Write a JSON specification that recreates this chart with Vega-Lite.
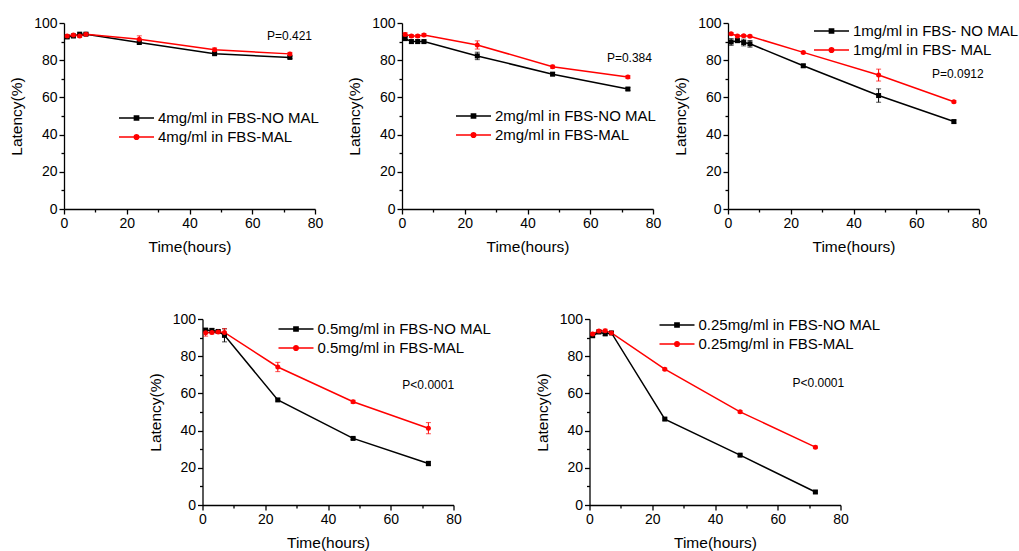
{
"$schema":"https://vega.github.io/schema/vega-lite/v6.json",
"padding":{"left":9,"top":16,"right":0,"bottom":0},
"autosize":{"type":"pad"},
"background":"white",
"config":{
 "font":"Liberation Sans",
 "view":{"stroke":null},
 "axis":{"domainColor":"#000","tickColor":"#000","labelColor":"#000","titleColor":"#000","grid":false,"labelFontSize":14,"titleFontSize":15.5,"titleFontWeight":"normal","domainWidth":1.3,"tickWidth":1.3,"tickSize":5,"labelPadding":2,"titlePadding":9,"labelFlush":false,"labelOverlap":false},
 "legend":{"labelColor":"#000","labelFontSize":15,"labelOffset":3,"labelLimit":0,"rowPadding":1,"clipHeight":18,"symbolSize":1225,"symbolStrokeWidth":1.5,"title":null,"orient":"none"},
 "text":{"color":"#000"}
},
"datasets":{
 "p1":[
  {"t":1,"grp":"NO MAL","v":92.5,"lo":91.8,"hi":93.2},{"t":3,"grp":"NO MAL","v":93,"lo":92.4,"hi":93.6},{"t":5,"grp":"NO MAL","v":94,"lo":93.4,"hi":94.6},{"t":7,"grp":"NO MAL","v":94,"lo":93.4,"hi":94.6},{"t":24,"grp":"NO MAL","v":89.5,"lo":88.8,"hi":90.2},{"t":48,"grp":"NO MAL","v":83.5,"lo":82.9,"hi":84.1},{"t":72,"grp":"NO MAL","v":81.5,"lo":80.9,"hi":82.1},
  {"t":1,"grp":"MAL","v":93,"lo":92.3,"hi":93.7},{"t":3,"grp":"MAL","v":93.5,"lo":92.9,"hi":94.1},{"t":5,"grp":"MAL","v":93,"lo":92.2,"hi":93.8},{"t":7,"grp":"MAL","v":94,"lo":93.4,"hi":94.6},{"t":24,"grp":"MAL","v":91.3,"lo":89.5,"hi":93.1},{"t":48,"grp":"MAL","v":85.6,"lo":84.6,"hi":86.6},{"t":72,"grp":"MAL","v":83.4,"lo":82.6,"hi":84.2}
 ],
 "p2":[
  {"t":1,"grp":"NO MAL","v":91.6,"lo":90.6,"hi":92.6},{"t":3,"grp":"NO MAL","v":90,"lo":89,"hi":91},{"t":5,"grp":"NO MAL","v":90,"lo":89,"hi":91},{"t":7,"grp":"NO MAL","v":90,"lo":89.2,"hi":90.8},{"t":24,"grp":"NO MAL","v":82.3,"lo":80.3,"hi":84.3},{"t":48,"grp":"NO MAL","v":72.5,"lo":71.7,"hi":73.3},{"t":72,"grp":"NO MAL","v":64.5,"lo":63.7,"hi":65.3},
  {"t":1,"grp":"MAL","v":93.8,"lo":92.8,"hi":94.8},{"t":3,"grp":"MAL","v":93,"lo":92.2,"hi":93.8},{"t":5,"grp":"MAL","v":93,"lo":92.2,"hi":93.8},{"t":7,"grp":"MAL","v":93.5,"lo":92.7,"hi":94.3},{"t":24,"grp":"MAL","v":88.2,"lo":86,"hi":90.4},{"t":48,"grp":"MAL","v":76.5,"lo":75.7,"hi":77.3},{"t":72,"grp":"MAL","v":71,"lo":70.2,"hi":71.8}
 ],
 "p3":[
  {"t":1,"grp":"NO MAL","v":89.8,"lo":88,"hi":91.6},{"t":3,"grp":"NO MAL","v":90.5,"lo":89.5,"hi":91.5},{"t":5,"grp":"NO MAL","v":89.5,"lo":87.7,"hi":91.3},{"t":7,"grp":"NO MAL","v":88.8,"lo":87,"hi":90.6},{"t":24,"grp":"NO MAL","v":77,"lo":76.2,"hi":77.8},{"t":48,"grp":"NO MAL","v":61,"lo":57.4,"hi":64.6},{"t":72,"grp":"NO MAL","v":47,"lo":46.2,"hi":47.8},
  {"t":1,"grp":"MAL","v":94.2,"lo":93.6,"hi":94.8},{"t":3,"grp":"MAL","v":93,"lo":92.4,"hi":93.6},{"t":5,"grp":"MAL","v":93.2,"lo":92.6,"hi":93.8},{"t":7,"grp":"MAL","v":92.9,"lo":92.3,"hi":93.5},{"t":24,"grp":"MAL","v":84.2,"lo":83.6,"hi":84.8},{"t":48,"grp":"MAL","v":72,"lo":68.8,"hi":75.2},{"t":72,"grp":"MAL","v":57.7,"lo":57.1,"hi":58.3}
 ],
 "p4":[
  {"t":1,"grp":"NO MAL","v":94,"lo":93,"hi":95},{"t":3,"grp":"NO MAL","v":93.8,"lo":92.6,"hi":95},{"t":5,"grp":"NO MAL","v":93.3,"lo":92.5,"hi":94.1},{"t":7,"grp":"NO MAL","v":91.2,"lo":87.7,"hi":94.7},{"t":24,"grp":"NO MAL","v":56.5,"lo":55.9,"hi":57.1},{"t":48,"grp":"NO MAL","v":35.8,"lo":35.2,"hi":36.4},{"t":72,"grp":"NO MAL","v":22.3,"lo":21.1,"hi":23.5},
  {"t":1,"grp":"MAL","v":92.6,"lo":90.8,"hi":94.4},{"t":3,"grp":"MAL","v":92.8,"lo":92,"hi":93.6},{"t":5,"grp":"MAL","v":93,"lo":92.2,"hi":93.8},{"t":7,"grp":"MAL","v":92.8,"lo":90.8,"hi":94.8},{"t":24,"grp":"MAL","v":74.2,"lo":71.7,"hi":76.7},{"t":48,"grp":"MAL","v":55.5,"lo":54.7,"hi":56.3},{"t":72,"grp":"MAL","v":41.3,"lo":38.3,"hi":44.3}
 ],
 "p5":[
  {"t":1,"grp":"NO MAL","v":91,"lo":90.2,"hi":91.8},{"t":3,"grp":"NO MAL","v":93,"lo":92.2,"hi":93.8},{"t":5,"grp":"NO MAL","v":92,"lo":91.2,"hi":92.8},{"t":7,"grp":"NO MAL","v":92.5,"lo":91.7,"hi":93.3},{"t":24,"grp":"NO MAL","v":46.2,"lo":45.6,"hi":46.8},{"t":48,"grp":"NO MAL","v":26.8,"lo":26.2,"hi":27.4},{"t":72,"grp":"NO MAL","v":7,"lo":6.4,"hi":7.6},
  {"t":1,"grp":"MAL","v":92,"lo":91.2,"hi":92.8},{"t":3,"grp":"MAL","v":93.5,"lo":92.7,"hi":94.3},{"t":5,"grp":"MAL","v":93.7,"lo":92.9,"hi":94.5},{"t":7,"grp":"MAL","v":92.5,"lo":91.9,"hi":93.1},{"t":24,"grp":"MAL","v":73,"lo":72.4,"hi":73.6},{"t":48,"grp":"MAL","v":50.1,"lo":49.5,"hi":50.7},{"t":72,"grp":"MAL","v":31.1,"lo":30.5,"hi":31.7}
 ]
},
"center":true,
"spacing":57,
"resolve":{"legend":{"color":"independent"}},
"vconcat":[
 {"hconcat":[
  {"hconcat":[
  {"width":251,"height":186,"data":{"name":"p1"},
   "layer":[
    {"mark":{"type":"line","strokeWidth":1.5},
     "encoding":{
      "x":{"field":"t","type":"quantitative","scale":{"domain":[0,80]},"axis":{"orient":"bottom","values":[0,20,40,60,80],"title":"Time(hours)"}},
      "y":{"field":"v","type":"quantitative","scale":{"domain":[0,100]},"axis":{"orient":"left","values":[0,20,40,60,80,100],"title":"Latency(%)"}},
      "color":{"field":"grp","type":"nominal","scale":{"domain":["NO MAL","MAL"],"range":["#000000","#ff0000"]},
       "legend":{"legendX":54,"legendY":86,"labelExpr":"datum.value == 'NO MAL' ? '4mg/ml in FBS-NO MAL' : '4mg/ml in FBS-MAL'",
        "encode":{"symbols":{"update":{"shape":{"signal":"datum.value == 'NO MAL' ? 'M-1,0H1M-0.12,-0.12H0.12V0.12H-0.12Z' : 'M-1,0H1M0.13,0A0.13,0.13,0,1,1,-0.13,0A0.13,0.13,0,1,1,0.13,0Z'"},"fill":{"signal":"datum.value == 'NO MAL' ? '#000' : '#f00'"},"stroke":{"signal":"datum.value == 'NO MAL' ? '#000' : '#f00'"},"opacity":{"value":1}}}}}}}},
    {"mark":{"type":"errorbar","ticks":{"size":5},"thickness":1},
     "encoding":{"x":{"field":"t","type":"quantitative","axis":null},"y":{"field":"lo","type":"quantitative","axis":null},"y2":{"field":"hi"},"color":{"field":"grp","type":"nominal","legend":null}}},
    {"mark":{"type":"point","filled":true,"size":25,"opacity":1},
     "encoding":{"x":{"field":"t","type":"quantitative","axis":null},"y":{"field":"v","type":"quantitative","axis":null},"color":{"field":"grp","type":"nominal","legend":null},"shape":{"field":"grp","type":"nominal","scale":{"domain":["NO MAL","MAL"],"range":["square","circle"]},"legend":null}}},
    {"data":{"values":[{"px":64.7,"py":93,"label":"P=0.421"}]},
     "mark":{"type":"text","align":"left","baseline":"middle","fontSize":12},
     "encoding":{"x":{"field":"px","type":"quantitative","axis":{"orient":"bottom","values":[10,30,50,70],"labels":false,"domain":false,"tickSize":3,"title":null}},"y":{"field":"py","type":"quantitative","axis":{"orient":"left","values":[10,30,50,70,90],"labels":false,"domain":false,"tickSize":3,"title":null}},"text":{"field":"label"}}}
   ],
   "resolve":{"axis":{"x":"independent","y":"independent"}}},
  {"width":251,"height":186,"data":{"name":"p2"},
   "layer":[
    {"mark":{"type":"line","strokeWidth":1.5},
     "encoding":{
      "x":{"field":"t","type":"quantitative","scale":{"domain":[0,80]},"axis":{"orient":"bottom","values":[0,20,40,60,80],"title":"Time(hours)"}},
      "y":{"field":"v","type":"quantitative","scale":{"domain":[0,100]},"axis":{"orient":"left","values":[0,20,40,60,80,100],"title":"Latency(%)"}},
      "color":{"field":"grp","type":"nominal","scale":{"domain":["NO MAL","MAL"],"range":["#000000","#ff0000"]},
       "legend":{"legendX":53,"legendY":84,"labelExpr":"datum.value == 'NO MAL' ? '2mg/ml in FBS-NO MAL' : '2mg/ml in FBS-MAL'",
        "encode":{"symbols":{"update":{"shape":{"signal":"datum.value == 'NO MAL' ? 'M-1,0H1M-0.12,-0.12H0.12V0.12H-0.12Z' : 'M-1,0H1M0.13,0A0.13,0.13,0,1,1,-0.13,0A0.13,0.13,0,1,1,0.13,0Z'"},"fill":{"signal":"datum.value == 'NO MAL' ? '#000' : '#f00'"},"stroke":{"signal":"datum.value == 'NO MAL' ? '#000' : '#f00'"},"opacity":{"value":1}}}}}}}},
    {"mark":{"type":"errorbar","ticks":{"size":5},"thickness":1},
     "encoding":{"x":{"field":"t","type":"quantitative","axis":null},"y":{"field":"lo","type":"quantitative","axis":null},"y2":{"field":"hi"},"color":{"field":"grp","type":"nominal","legend":null}}},
    {"mark":{"type":"point","filled":true,"size":25,"opacity":1},
     "encoding":{"x":{"field":"t","type":"quantitative","axis":null},"y":{"field":"v","type":"quantitative","axis":null},"color":{"field":"grp","type":"nominal","legend":null},"shape":{"field":"grp","type":"nominal","scale":{"domain":["NO MAL","MAL"],"range":["square","circle"]},"legend":null}}},
    {"data":{"values":[{"px":65.3,"py":81.2,"label":"P=0.384"}]},
     "mark":{"type":"text","align":"left","baseline":"middle","fontSize":12},
     "encoding":{"x":{"field":"px","type":"quantitative","axis":{"orient":"bottom","values":[10,30,50,70],"labels":false,"domain":false,"tickSize":3,"title":null}},"y":{"field":"py","type":"quantitative","axis":{"orient":"left","values":[10,30,50,70,90],"labels":false,"domain":false,"tickSize":3,"title":null}},"text":{"field":"label"}}}
   ],
   "resolve":{"axis":{"x":"independent","y":"independent"}}}
  ],
  "spacing":87,"bounds":"flush",
  "resolve":{"legend":{"color":"independent"}}},
  {"width":251,"height":186,"data":{"name":"p3"},
   "layer":[
    {"mark":{"type":"line","strokeWidth":1.5},
     "encoding":{
      "x":{"field":"t","type":"quantitative","scale":{"domain":[0,80]},"axis":{"orient":"bottom","values":[0,20,40,60,80],"title":"Time(hours)"}},
      "y":{"field":"v","type":"quantitative","scale":{"domain":[0,100]},"axis":{"orient":"left","values":[0,20,40,60,80,100],"title":"Latency(%)"}},
      "color":{"field":"grp","type":"nominal","scale":{"domain":["NO MAL","MAL"],"range":["#000000","#ff0000"]},
       "legend":{"legendX":85,"legendY":-1,"labelExpr":"datum.value == 'NO MAL' ? '1mg/ml in FBS- NO MAL' : '1mg/ml in FBS- MAL'",
        "encode":{"symbols":{"update":{"shape":{"signal":"datum.value == 'NO MAL' ? 'M-1,0H1M-0.12,-0.12H0.12V0.12H-0.12Z' : 'M-1,0H1M0.13,0A0.13,0.13,0,1,1,-0.13,0A0.13,0.13,0,1,1,0.13,0Z'"},"fill":{"signal":"datum.value == 'NO MAL' ? '#000' : '#f00'"},"stroke":{"signal":"datum.value == 'NO MAL' ? '#000' : '#f00'"},"opacity":{"value":1}}}}}}}},
    {"mark":{"type":"errorbar","ticks":{"size":5},"thickness":1},
     "encoding":{"x":{"field":"t","type":"quantitative","axis":null},"y":{"field":"lo","type":"quantitative","axis":null},"y2":{"field":"hi"},"color":{"field":"grp","type":"nominal","legend":null}}},
    {"mark":{"type":"point","filled":true,"size":25,"opacity":1},
     "encoding":{"x":{"field":"t","type":"quantitative","axis":null},"y":{"field":"v","type":"quantitative","axis":null},"color":{"field":"grp","type":"nominal","legend":null},"shape":{"field":"grp","type":"nominal","scale":{"domain":["NO MAL","MAL"],"range":["square","circle"]},"legend":null}}},
    {"data":{"values":[{"px":65,"py":72.7,"label":"P=0.0912"}]},
     "mark":{"type":"text","align":"left","baseline":"middle","fontSize":12},
     "encoding":{"x":{"field":"px","type":"quantitative","axis":{"orient":"bottom","values":[10,30,50,70],"labels":false,"domain":false,"tickSize":3,"title":null}},"y":{"field":"py","type":"quantitative","axis":{"orient":"left","values":[10,30,50,70,90],"labels":false,"domain":false,"tickSize":3,"title":null}},"text":{"field":"label"}}}
   ],
   "resolve":{"axis":{"x":"independent","y":"independent"}}}
 ],
 "spacing":12,
 "resolve":{"legend":{"color":"independent"}}},
 {"hconcat":[
  {"width":251,"height":186,"data":{"name":"p4"},
   "layer":[
    {"mark":{"type":"line","strokeWidth":1.5},
     "encoding":{
      "x":{"field":"t","type":"quantitative","scale":{"domain":[0,80]},"axis":{"orient":"bottom","values":[0,20,40,60,80],"title":"Time(hours)"}},
      "y":{"field":"v","type":"quantitative","scale":{"domain":[0,100]},"axis":{"orient":"left","values":[0,20,40,60,80,100],"title":"Latency(%)"}},
      "color":{"field":"grp","type":"nominal","scale":{"domain":["NO MAL","MAL"],"range":["#000000","#ff0000"]},
       "legend":{"legendX":75,"legendY":1,"labelExpr":"datum.value == 'NO MAL' ? '0.5mg/ml in FBS-NO MAL' : '0.5mg/ml in FBS-MAL'",
        "encode":{"symbols":{"update":{"shape":{"signal":"datum.value == 'NO MAL' ? 'M-1,0H1M-0.12,-0.12H0.12V0.12H-0.12Z' : 'M-1,0H1M0.13,0A0.13,0.13,0,1,1,-0.13,0A0.13,0.13,0,1,1,0.13,0Z'"},"fill":{"signal":"datum.value == 'NO MAL' ? '#000' : '#f00'"},"stroke":{"signal":"datum.value == 'NO MAL' ? '#000' : '#f00'"},"opacity":{"value":1}}}}}}}},
    {"mark":{"type":"errorbar","ticks":{"size":5},"thickness":1},
     "encoding":{"x":{"field":"t","type":"quantitative","axis":null},"y":{"field":"lo","type":"quantitative","axis":null},"y2":{"field":"hi"},"color":{"field":"grp","type":"nominal","legend":null}}},
    {"mark":{"type":"point","filled":true,"size":25,"opacity":1},
     "encoding":{"x":{"field":"t","type":"quantitative","axis":null},"y":{"field":"v","type":"quantitative","axis":null},"color":{"field":"grp","type":"nominal","legend":null},"shape":{"field":"grp","type":"nominal","scale":{"domain":["NO MAL","MAL"],"range":["square","circle"]},"legend":null}}},
    {"data":{"values":[{"px":63.7,"py":64.7,"label":"P<0.0001"}]},
     "mark":{"type":"text","align":"left","baseline":"middle","fontSize":12},
     "encoding":{"x":{"field":"px","type":"quantitative","axis":{"orient":"bottom","values":[10,30,50,70],"labels":false,"domain":false,"tickSize":3,"title":null}},"y":{"field":"py","type":"quantitative","axis":{"orient":"left","values":[10,30,50,70,90],"labels":false,"domain":false,"tickSize":3,"title":null}},"text":{"field":"label"}}}
   ],
   "resolve":{"axis":{"x":"independent","y":"independent"}}},
  {"width":251,"height":186,"data":{"name":"p5"},
   "layer":[
    {"mark":{"type":"line","strokeWidth":1.5},
     "encoding":{
      "x":{"field":"t","type":"quantitative","scale":{"domain":[0,80]},"axis":{"orient":"bottom","values":[0,20,40,60,80],"title":"Time(hours)"}},
      "y":{"field":"v","type":"quantitative","scale":{"domain":[0,100]},"axis":{"orient":"left","values":[0,20,40,60,80,100],"title":"Latency(%)"}},
      "color":{"field":"grp","type":"nominal","scale":{"domain":["NO MAL","MAL"],"range":["#000000","#ff0000"]},
       "legend":{"legendX":69,"legendY":-3,"labelExpr":"datum.value == 'NO MAL' ? '0.25mg/ml in FBS-NO MAL' : '0.25mg/ml in FBS-MAL'",
        "encode":{"symbols":{"update":{"shape":{"signal":"datum.value == 'NO MAL' ? 'M-1,0H1M-0.12,-0.12H0.12V0.12H-0.12Z' : 'M-1,0H1M0.13,0A0.13,0.13,0,1,1,-0.13,0A0.13,0.13,0,1,1,0.13,0Z'"},"fill":{"signal":"datum.value == 'NO MAL' ? '#000' : '#f00'"},"stroke":{"signal":"datum.value == 'NO MAL' ? '#000' : '#f00'"},"opacity":{"value":1}}}}}}}},
    {"mark":{"type":"errorbar","ticks":{"size":5},"thickness":1},
     "encoding":{"x":{"field":"t","type":"quantitative","axis":null},"y":{"field":"lo","type":"quantitative","axis":null},"y2":{"field":"hi"},"color":{"field":"grp","type":"nominal","legend":null}}},
    {"mark":{"type":"point","filled":true,"size":25,"opacity":1},
     "encoding":{"x":{"field":"t","type":"quantitative","axis":null},"y":{"field":"v","type":"quantitative","axis":null},"color":{"field":"grp","type":"nominal","legend":null},"shape":{"field":"grp","type":"nominal","scale":{"domain":["NO MAL","MAL"],"range":["square","circle"]},"legend":null}}},
    {"data":{"values":[{"px":64.7,"py":65.8,"label":"P<0.0001"}]},
     "mark":{"type":"text","align":"left","baseline":"middle","fontSize":12},
     "encoding":{"x":{"field":"px","type":"quantitative","axis":{"orient":"bottom","values":[10,30,50,70],"labels":false,"domain":false,"tickSize":3,"title":null}},"y":{"field":"py","type":"quantitative","axis":{"orient":"left","values":[10,30,50,70,90],"labels":false,"domain":false,"tickSize":3,"title":null}},"text":{"field":"label"}}}
   ],
   "resolve":{"axis":{"x":"independent","y":"independent"}}}
 ],
 "spacing":136,"bounds":"flush",
 "resolve":{"legend":{"color":"independent"}}}
]
}
